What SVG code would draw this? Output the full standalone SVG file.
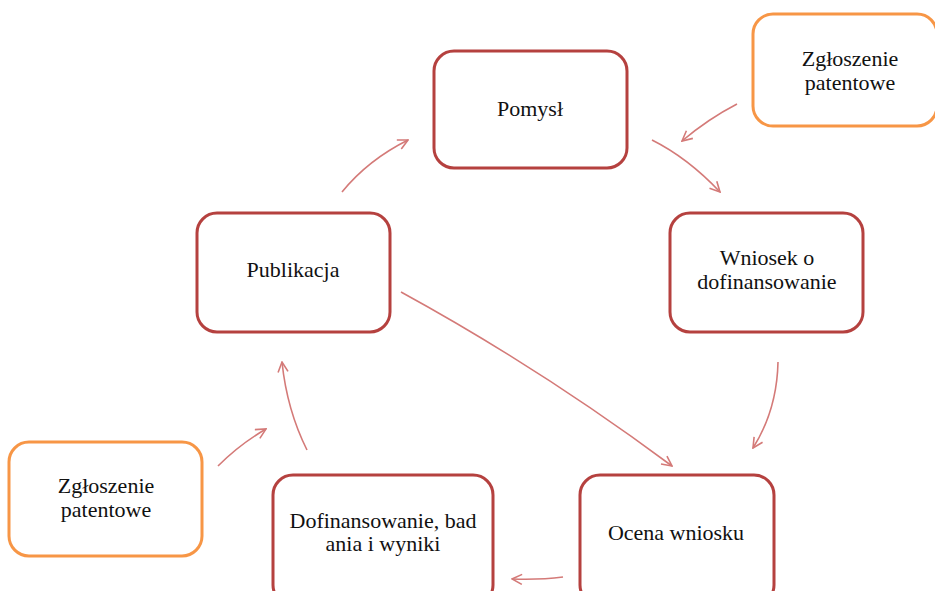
<svg xmlns="http://www.w3.org/2000/svg" width="935" height="591" viewBox="0 0 935 591">
  <defs>
    <style>
      .step rect { fill: #ffffff; stroke: #b5413f; stroke-width: 3; }
      .patent rect { fill: #ffffff; stroke: #f79646; stroke-width: 3; }
      .label { font-family: 'Liberation Serif', 'DejaVu Serif', 'Times New Roman', serif; font-size: 22px; fill: #111111; text-anchor: middle; }
      .link { fill: none; stroke: #d47a78; stroke-width: 1.6; marker-end: url(#arrow); }
    </style>
    <marker id="arrow" viewBox="0 0 12 12" refX="11" refY="6" markerWidth="12" markerHeight="12" markerUnits="userSpaceOnUse" orient="auto">
      <path d="M1,1 L11,6 L1,11" fill="none" stroke="#d47a78" stroke-width="1.6"/>
    </marker>
  </defs>
  <rect width="935" height="591" fill="#ffffff"/>

  <g id="connectors">
    <path class="link" d="M652,140 Q688,158 720,192"/>
    <path class="link" d="M737,104 Q708,119 682,141"/>
    <path class="link" d="M342,192 Q368,160 408,140"/>
    <path class="link" d="M778,362 Q777,410 753,448"/>
    <path class="link" d="M401,292 Q540,368 672,466"/>
    <path class="link" d="M563,577 Q540,580 512,579"/>
    <path class="link" d="M307,450 Q287,410 282,362"/>
    <path class="link" d="M218,466 Q240,444 266,429"/>
  </g>

  <g id="pomysl" class="step">
    <rect x="434" y="51" width="193" height="117" rx="20"/>
    <text class="label" font-family="Liberation Serif, serif" x="530" y="116">Pomysł</text>
  </g>

  <g id="zgloszenie-top" class="patent">
    <rect x="753" y="14" width="184" height="112" rx="20"/>
    <text class="label" font-family="Liberation Serif, serif" x="850" y="66">Zgłoszenie</text>
    <text class="label" font-family="Liberation Serif, serif" x="850" y="90">patentowe</text>
  </g>

  <g id="wniosek" class="step">
    <rect x="670" y="213" width="193" height="119" rx="20"/>
    <text class="label" font-family="Liberation Serif, serif" x="767" y="265">Wniosek o</text>
    <text class="label" font-family="Liberation Serif, serif" x="767" y="289">dofinansowanie</text>
  </g>

  <g id="publikacja" class="step">
    <rect x="197" y="213" width="193" height="119" rx="20"/>
    <text class="label" font-family="Liberation Serif, serif" x="293" y="277">Publikacja</text>
  </g>

  <g id="zgloszenie-left" class="patent">
    <rect x="9" y="442" width="193" height="114" rx="20"/>
    <text class="label" font-family="Liberation Serif, serif" x="106" y="493">Zgłoszenie</text>
    <text class="label" font-family="Liberation Serif, serif" x="106" y="517">patentowe</text>
  </g>

  <g id="dofinansowanie" class="step">
    <rect x="273" y="475" width="220" height="130" rx="20"/>
    <text class="label" font-family="Liberation Serif, serif" x="383" y="528">Dofinansowanie, bad</text>
    <text class="label" font-family="Liberation Serif, serif" x="383" y="551">ania i wyniki</text>
  </g>

  <g id="ocena" class="step">
    <rect x="580" y="475" width="194" height="130" rx="20"/>
    <text class="label" font-family="Liberation Serif, serif" x="676" y="540">Ocena wniosku</text>
  </g>
</svg>
